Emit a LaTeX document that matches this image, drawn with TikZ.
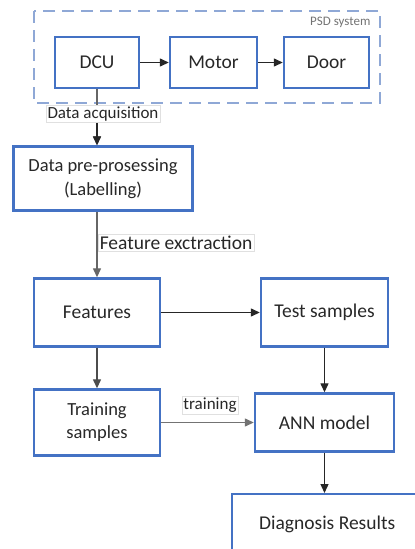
\documentclass[tikz,border=0pt]{standalone}
\usepackage{fontspec}
\setmainfont{Carlito}
\usetikzlibrary{arrows.meta}
\definecolor{boxblue}{RGB}{68,114,196}
\definecolor{dashblue}{RGB}{143,168,214}
\definecolor{txt}{RGB}{40,40,40}
\tikzset{
  blk/.style={draw=boxblue, line width=2.4pt, fill=white, align=center, inner sep=2pt,
    font=\fontsize{19.5}{22}\selectfont, text=txt},
  conn/.style={line width=1.3pt, draw=black!85, -{Triangle[length=9pt,width=8pt]}},
  lbl/.style={fill=white, draw=black!12, line width=0.5pt, inner sep=1.5pt, text=txt},
}
\begin{document}
\begin{tikzpicture}[x=1pt,y=-1pt]
\useasboundingbox (0,0) rectangle (415,549);
\clip (0,0) rectangle (415,549);
% PSD system frame
\draw[dashblue, line width=1.4pt, dash pattern=on 12pt off 7pt] (34,11) rectangle (380,103);
\node[anchor=east, font=\fontsize{13}{15}\selectfont, text=black!55] (psd) at (374,22) {PSD system};
% boxes
\node[blk, minimum width=84pt, minimum height=51pt] (dcu) at (97,62.5) {DCU};
\node[blk, minimum width=87pt, minimum height=51pt] (motor) at (213.5,62.5) {Motor};
\node[blk, minimum width=85pt, minimum height=51pt] (door) at (326.5,62.5) {Door};
\node[blk, minimum width=179pt, minimum height=64pt, font=\fontsize{18.5}{24}\selectfont] (pre) at (103,178.5) {Data pre-prosessing\\(Labelling)};
\node[blk, minimum width=126pt, minimum height=68pt] (feat) at (97,312.5) {Features};
\node[blk, minimum width=127pt, minimum height=68pt] (test) at (324.5,312.5) {Test samples};
\node[blk, minimum width=126pt, minimum height=66pt, font=\fontsize{18.5}{23}\selectfont] (train) at (97,422.5) {Training\\samples};
\node[blk, minimum width=139pt, minimum height=58pt] (ann) at (324.5,422.5) {ANN model};
\node[blk, anchor=north west, minimum width=190pt, minimum height=60pt] (diag) at (231,493) {Diagnosis Results};
% connectors
\draw[conn] (dcu) -- (motor);
\draw[conn] (motor) -- (door);
\draw[conn, draw=black!60] (dcu.south) -- (dcu.south |- pre.north);
\node[lbl, font=\fontsize{17}{19}\selectfont] (acq) at (103,114) {Data acquisition};
\draw[conn] (acq.south -| dcu.south) -- (dcu.south |- pre.north);
\draw[conn, draw=black!60] (feat.north |- pre.south) -- (feat.north);
\node[lbl, anchor=west, font=\fontsize{19.5}{22}\selectfont] (fex) at (98,243) {Feature exctraction};
\draw[conn] (feat) -- (test);
\draw[conn, draw=black!70] (feat) -- (train);
\draw[conn] (test) -- (ann);
\draw[conn, draw=black!55] (train) -- (ann);
\node[lbl, font=\fontsize{17}{19}\selectfont] (trl) at (210,405) {training};
\draw[conn] (ann.south) -- (ann.south |- diag.north);
\end{tikzpicture}
\end{document}
